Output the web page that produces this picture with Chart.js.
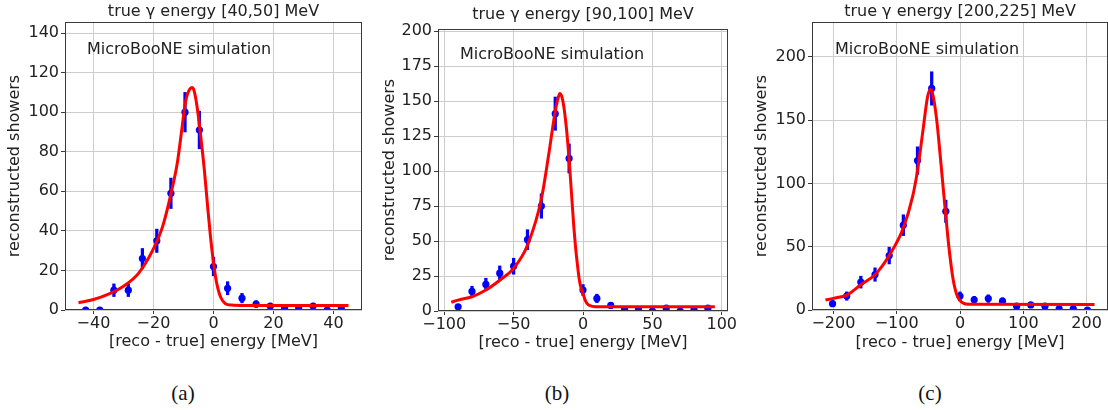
<!DOCTYPE html>
<html><head><meta charset="utf-8">
<script src="https://cdn.jsdelivr.net/npm/chart.js@4.4.1/dist/chart.umd.min.js"></script>
<style>
html,body{margin:0;padding:0;background:#fff;overflow:hidden;width:1108px;height:410px;position:relative;}
canvas{position:absolute;top:0;}
.lab{position:absolute;font-family:'Liberation Serif','Times New Roman',serif;font-size:21px;color:#111;top:381px;width:60px;margin-left:-30px;text-align:center;line-height:24px;}
</style></head><body>
<canvas id="cA" width="370" height="360" style="left:0px"></canvas>
<canvas id="cB" width="370" height="360" style="left:370px"></canvas>
<canvas id="cC" width="372" height="360" style="left:740px"></canvas>
<div class="lab" style="left:183px">(a)</div>
<div class="lab" style="left:557px">(b)</div>
<div class="lab" style="left:930px">(c)</div>
<script>
// ---------- data ----------
// panel (a): true gamma energy [40,50] MeV
const titleA = 'true \u03b3 energy [40,50] MeV';
const binsA = [-42.6,-37.9,-33.2,-28.4,-23.7,-18.9,-14.2,-9.5,-4.7,0,4.7,9.5,14.2,18.9,23.7,28.4,33.2,37.9,42.6];
const countsA = [0,0,10,10,26,35,59,100,91,22,11,6,3,2,1,1,2,0,1];
const errA = [0,0,3.2,3.2,5.1,5.9,7.7,10,9.5,4.7,3.3,2.4,1.7,1.4,1,1,1.4,0,1];
const fitXA = [-45,-40,-35,-30,-25,-20,-17,-14,-12,-10,-9.5,-9,-8,-7.2,-6.5,-5.5,-4.5,-3,-2,-1,0,1,2,3,4,6,10,45];
const fitYA = [3.7,5.3,8,12,18.5,31,42,60,75,98,103.5,107.5,111.5,112.5,111,103,91,70,53,37,24,14,8,4.8,3.2,2.5,2.3,2.3];
const yTicksA = [0,20,40,60,80,100,120,140];
const xTicksA = [-40,-20,0,20,40];

// panel (b): true gamma energy [90,100] MeV
const titleB = 'true \u03b3 energy [90,100] MeV';
const binsB = [-90,-80,-70,-60,-50,-40,-30,-20,-10,0,10,20,30,40,50,60,70,80,90];
const countsB = [3,14,19,27,32,51,75,141,109,15,9,4,1,1,0,2,0,1,2];
const errB = [1.7,3.7,4.4,5.2,5.7,7.1,8.7,11.9,10.4,3.9,3,2,1,1,0,1.4,0,1,1.4];
const fitXB = [-95,-90,-80,-70,-60,-50,-40,-30,-24.6,-20.3,-18,-16.7,-15.2,-13.8,-12.2,-10.7,-9.2,-7.8,-6.6,-5.4,-4,-2.6,-1.3,0,1.5,3,5,9,95];
const fitYB = [6.3,7.8,10.2,15,22,30.5,47,80,112.5,141,152,155.5,153,146,133,117,97,77,60,46,33,22,16,12.5,8,5.3,3.8,3.1,3.1];
const yTicksB = [0,25,50,75,100,125,150,175,200];
const xTicksB = [-100,-50,0,50,100];

// panel (c): true gamma energy [200,225] MeV
const titleC = 'true \u03b3 energy [200,225] MeV';
const binsC = [-201.3,-178.9,-156.6,-134.2,-111.8,-89.5,-67.1,-44.7,-22.4,0,22.4,44.7,67.1,89.5,111.8,134.2,156.6,178.9,201.3];
const countsC = [5,11,22,28,43,67,118,175,78,11,8,9,7,3,4,3,1,1,0];
const errC = [2.2,3.3,4.7,5.3,6.6,8.2,10.9,13.2,8.8,3.3,2.8,3,2.6,1.7,2,1.7,1,1,0];
const fitXC = [-212.5,-200,-178.8,-156.6,-134,-111.8,-89.7,-74.9,-67,-59.1,-51.2,-47,-43.3,-37,-30.1,-23.3,-17,-10.7,-3.9,4,14.5,212.5];
const fitYC = [7.9,9.2,11.8,20,28,43,64.5,89.5,110.5,139.5,168.4,174.2,171,151,115.8,79,47.4,23.7,10.5,5.8,4.5,4.3];
const yTicksC = [0,50,100,150,200];
const xTicksC = [-200,-100,0,100,200];

const xLabel = '[reco - true] energy [MeV]';
const yLabel = 'reconstructed showers';
const note = 'MicroBooNE simulation';

// ---------- styling ----------
const F = "'DejaVu Sans', sans-serif";
const TXT = '#222222';
const GRID = '#cdcdcd';
const FRAME = '#3a3a3a';
Chart.defaults.font.family = F;

function fmt(v){ return String(v).replace('-', '\u2212'); }

function framePlugin(title, titleY, nx, ny){
  return {
    id: 'frameNote',
    afterDatasetsDraw(chart){
      const {ctx, chartArea: a} = chart;
      ctx.save();
      ctx.strokeStyle = FRAME; ctx.lineWidth = 1;
      ctx.strokeRect(Math.round(a.left) + 0.5, Math.round(a.top) + 0.5,
                     Math.round(a.right - a.left) - 1, Math.round(a.bottom - a.top) - 1);
      ctx.fillStyle = TXT;
      ctx.font = "16px " + F;
      ctx.textBaseline = 'middle'; ctx.textAlign = 'left';
      ctx.fillText(note, a.left + nx, a.top + ny);
      ctx.textAlign = 'center';
      ctx.fillText(title, (a.left + a.right) / 2, titleY);
      ctx.restore();
    }
  };
}

function panel(id, p){
  const pts = p.bins.map((v, i) => ({x: v, y: p.counts[i]}));
  const bars = p.bins.map((v, i) => ({x: v, y: [p.counts[i] - p.err[i], p.counts[i] + p.err[i]]}));
  const fit = p.fx.map((v, i) => ({x: v, y: p.fy[i]}));
  const font = {family: F, size: 16};
  new Chart(document.getElementById(id), {
    type: 'line',
    data: {datasets: [
      {type: 'line', data: fit, borderColor: '#ff0000', borderWidth: 3, pointRadius: 0,
       cubicInterpolationMode: 'monotone', fill: false},
      {type: 'scatter', data: pts, backgroundColor: '#0000ff', borderColor: '#0000ff',
       pointRadius: 3.6, pointBorderWidth: 0, showLine: false, clip: 0},
      {type: 'bar', data: bars, backgroundColor: '#0000ff', borderWidth: 0, barThickness: 2.6, grouped: false, clip: 0}
    ]},
    options: {
      responsive: false, animation: false, devicePixelRatio: 1,
      layout: {padding: {left: 0, top: p.top, right: p.padR, bottom: 0}},
      plugins: {
        legend: {display: false}, tooltip: {enabled: false}, title: {display: false}
      },
      scales: {
        x: {
          type: 'linear', min: -p.xr, max: p.xr, offset: false,
          afterBuildTicks: s => { s.ticks = p.xt.map(v => ({value: v})); },
          ticks: {font, color: TXT, padding: 0, maxRotation: 0, autoSkip: false, callback: v => fmt(v)},
          grid: {color: GRID, tickColor: FRAME, tickLength: 4, offset: false},
          border: {display: false},
          title: {display: true, text: xLabel, color: TXT, font, padding: {top: 0, bottom: p.xp}},
          afterFit: s => { s.height = 360 - p.bottom; }
        },
        y: {
          type: 'linear', min: 0, max: p.yr,
          afterBuildTicks: s => { s.ticks = p.yt.map(v => ({value: v})); },
          ticks: {font, color: TXT, padding: 2, autoSkip: false, callback: v => fmt(v)},
          grid: {color: GRID, tickColor: FRAME, tickLength: 4},
          border: {display: false},
          title: {display: true, text: yLabel, color: TXT, font, padding: {top: p.yp, bottom: 0}},
          afterFit: s => { s.width = p.left; }
        }
      }
    },
    plugins: [framePlugin(p.title, p.ty, p.nx, p.ny)]
  });
}

panel('cA', {title: titleA, bins: binsA, counts: countsA, err: errA, fx: fitXA, fy: fitYA,
  xt: xTicksA, yt: yTicksA, xr: 49.5, yr: 145.6,
  left: 65, padR: 8, top: 22, bottom: 310, ty: 12, yp: 5.4, xp: 8.7, nx: 22, ny: 28});
panel('cB', {title: titleB, bins: binsB, counts: countsB, err: errB, fx: fitXB, fy: fitYB,
  xt: xTicksB, yt: yTicksB, xr: 104.5, yr: 201.5,
  left: 68, padR: 12, top: 29, bottom: 311, ty: 15, yp: 10.4, xp: 7.1, nx: 22, ny: 26});
panel('cC', {title: titleC, bins: binsC, counts: countsC, err: errC, fx: fitXC, fy: fitYC,
  xt: xTicksC, yt: yTicksC, xr: 233.75, yr: 227.5,
  left: 72, padR: 4, top: 22, bottom: 310, ty: 12, yp: 12.1, xp: 7.1, nx: 23, ny: 28});
</script>
</body></html>
